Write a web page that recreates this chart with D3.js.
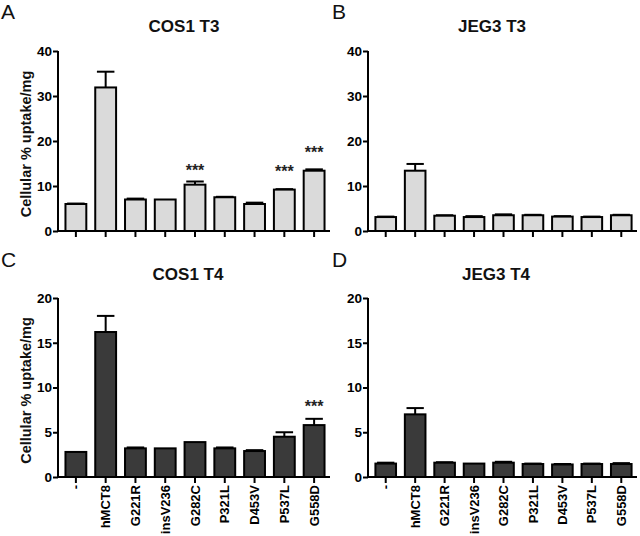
<!DOCTYPE html>
<html><head><meta charset="utf-8">
<script src="https://cdn.jsdelivr.net/npm/d3@7"></script>
<style>html,body{margin:0;padding:0;background:#fff;}svg{display:block;font-family:"Liberation Sans",Arial,sans-serif;}</style>
</head><body>
<svg id="c" width="640" height="536"></svg>
<script>
const categories = ["-","hMCT8","G221R","insV236","G282C","P321L","D453V","P537L","G558D"];
const cos1T3 = [6.0, 31.9, 7.0, 7.0, 10.3, 7.5, 6.0, 9.2, 13.4];
const cos1T3Err = [6.1, 35.4, 7.2, 7.0, 11.0, 7.6, 6.3, 9.3, 13.7];
const cos1T3Stars = [null, null, null, null, 14.0, null, null, 13.8, 18.0];
const jeg3T3 = [3.1, 13.4, 3.4, 3.1, 3.5, 3.5, 3.2, 3.1, 3.5];
const jeg3T3Err = [3.2, 14.9, 3.5, 3.3, 3.7, 3.6, 3.3, 3.2, 3.6];
const cos1T4 = [2.8, 16.2, 3.2, 3.2, 3.9, 3.2, 2.9, 4.5, 5.8];
const cos1T4Err = [2.8, 18.0, 3.3, 3.2, 3.9, 3.3, 3.0, 5.0, 6.5];
const cos1T4Stars = [null, null, null, null, null, null, null, null, 8.2];
const jeg3T4 = [1.5, 7.0, 1.6, 1.5, 1.6, 1.45, 1.4, 1.45, 1.45];
const jeg3T4Err = [1.6, 7.7, 1.65, 1.5, 1.7, 1.5, 1.45, 1.5, 1.55];
const t3Ticks = [0, 10, 20, 30, 40];
const t4Ticks = [0, 5, 10, 15, 20];
const yLabel = "Cellular % uptake/mg";

const svg = d3.select("#c");

const panels = [
  {letter:"A", title:"COS1 T3", vals:cos1T3, err:cos1T3Err, stars:cos1T3Stars, ticks:t3Ticks, max:40,
   x0:58, x1:330, yTop:51, yBot:231, fill:"#dadada", ylab:true, xlab:false, lx:1, ly:19, tx:184, ty:32},
  {letter:"B", title:"JEG3 T3", vals:jeg3T3, err:jeg3T3Err, stars:null, ticks:t3Ticks, max:40,
   x0:368, x1:637, yTop:51, yBot:231, fill:"#dadada", ylab:false, xlab:false, lx:332, ly:19, tx:492, ty:32},
  {letter:"C", title:"COS1 T4", vals:cos1T4, err:cos1T4Err, stars:cos1T4Stars, ticks:t4Ticks, max:20,
   x0:58, x1:330, yTop:298, yBot:477, fill:"#3a3a3a", ylab:true, xlab:true, lx:1, ly:267, tx:188, ty:280},
  {letter:"D", title:"JEG3 T4", vals:jeg3T4, err:jeg3T4Err, stars:null, ticks:t4Ticks, max:20,
   x0:368, x1:637, yTop:298, yBot:477, fill:"#3a3a3a", ylab:false, xlab:true, lx:332, ly:267, tx:496, ty:280}
];

panels.forEach(p => {
  const g = svg.append("g");
  const x = d3.scaleBand().domain(categories).range([p.x0 + 3, p.x1 - 1]).paddingInner(0.3).paddingOuter(0.15);
  const y = d3.scaleLinear().domain([0, p.max]).range([p.yBot, p.yTop]);

  g.append("text").attr("x", p.lx).attr("y", p.ly).attr("font-size", 21).attr("fill", "#111").text(p.letter);
  g.append("text").attr("x", p.tx).attr("y", p.ty).attr("text-anchor", "middle")
    .attr("font-size", 17).attr("font-weight", "bold").attr("fill", "#111").text(p.title);

  const bw = x.bandwidth();
  const data = categories.map((c, i) => ({c, v:p.vals[i], e:p.err[i], s:p.stars ? p.stars[i] : null}));

  data.forEach(d => {
    if (d.e > d.v) {
      const cx = x(d.c) + bw / 2;
      g.append("line").attr("x1", cx).attr("x2", cx).attr("y1", y(d.v)).attr("y2", y(d.e))
        .attr("stroke", "#000").attr("stroke-width", 2);
      g.append("line").attr("x1", cx - bw * 0.42).attr("x2", cx + bw * 0.42).attr("y1", y(d.e)).attr("y2", y(d.e))
        .attr("stroke", "#000").attr("stroke-width", 2);
    }
  });

  g.selectAll("rect.bar").data(data).enter().append("rect").attr("class", "bar")
    .attr("x", d => x(d.c)).attr("width", bw)
    .attr("y", d => y(d.v)).attr("height", d => y(0) - y(d.v))
    .attr("fill", p.fill).attr("stroke", "#000").attr("stroke-width", 2);

  data.filter(d => d.s !== null).forEach(d => {
    g.append("text").attr("x", x(d.c) + bw / 2).attr("y", y(d.s) + 8).attr("text-anchor", "middle")
      .attr("font-size", 16).attr("font-weight", "bold").attr("fill", "#222").text("***");
  });

  const ya = d3.axisLeft(y).tickValues(p.ticks).tickSize(5).tickPadding(1).tickFormat(d3.format("d"));
  const yg = g.append("g").attr("transform", `translate(${p.x0},0)`).call(ya);
  yg.select(".domain").attr("stroke", "#000").attr("stroke-width", 2).attr("d", `M0,${p.yTop}V${p.yBot}`);
  yg.selectAll(".tick line").attr("stroke", "#000").attr("stroke-width", 2);
  yg.selectAll(".tick text").attr("font-size", 13.5).attr("font-weight", "bold").attr("fill", "#000")
    .attr("font-family", "'Liberation Sans', Arial, sans-serif");

  const xa = d3.axisBottom(x).tickSize(6).tickPadding(4);
  const xg = g.append("g").attr("transform", `translate(0,${p.yBot})`).call(xa);
  xg.select(".domain").attr("stroke", "#000").attr("stroke-width", 2).attr("d", `M${p.x0},0H${p.x1}`);
  xg.selectAll(".tick line").attr("stroke", "#000").attr("stroke-width", 2);
  if (p.xlab) {
    xg.selectAll(".tick text").attr("font-size", 13).attr("font-weight", "bold").attr("fill", "#000")
      .attr("font-family", "'Liberation Sans', Arial, sans-serif")
      .attr("transform", "rotate(-90)").attr("text-anchor", "end").attr("dy", "0.35em")
      .attr("x", -8).attr("y", 0);
  } else {
    xg.selectAll(".tick text").remove();
  }

  if (p.ylab) {
    g.append("text").attr("transform", `translate(31,${(p.yTop + p.yBot) / 2 + 3}) rotate(-90)`)
      .attr("text-anchor", "middle").attr("font-size", 14.5).attr("font-weight", "bold").attr("fill", "#111")
      .text(yLabel);
  }
});
</script>
</body></html>
